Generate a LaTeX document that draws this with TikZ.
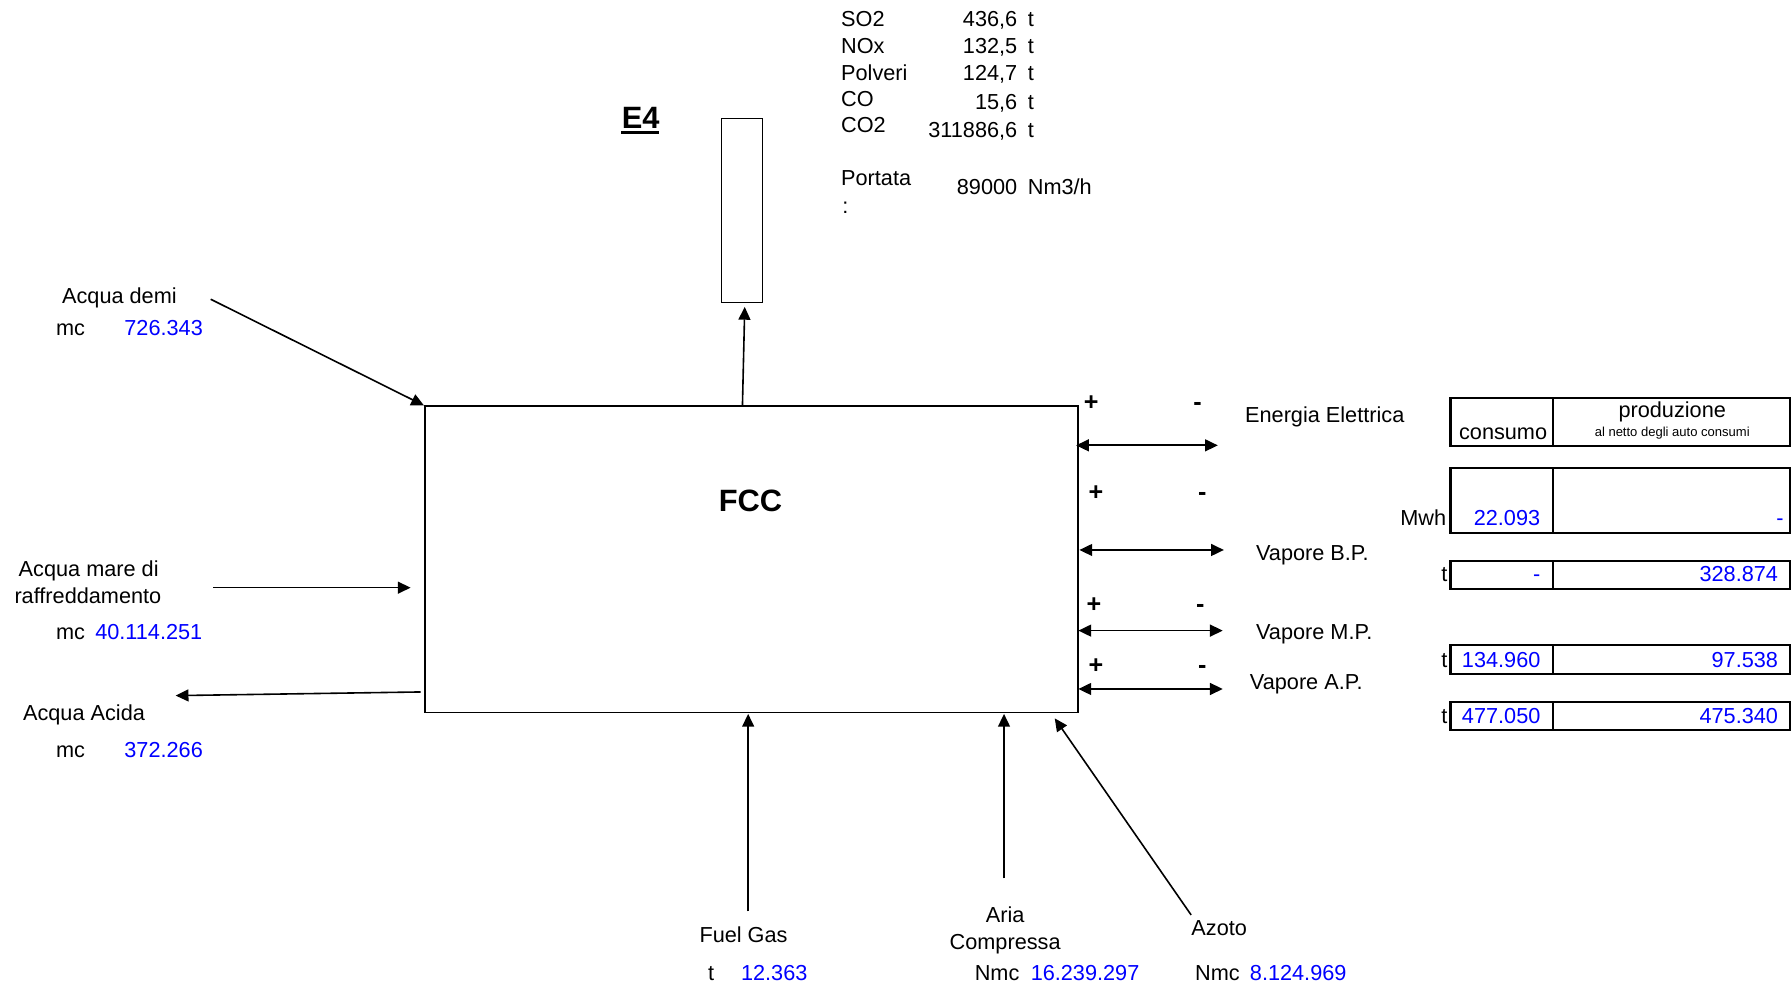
\documentclass[tikz,border=0pt]{standalone}
\usepackage{fontspec}
\setmainfont{Liberation Sans}
\usetikzlibrary{arrows.meta}
\definecolor{valblue}{RGB}{0,0,255}
\newcommand{\fsn}{\fontsize{9.5}{11}\selectfont}
\newcommand{\fsbig}{\fontsize{13.5}{15}\selectfont\bfseries}
\newcommand{\fssmall}{\fontsize{5.7}{7}\selectfont}
\newcommand{\fssign}{\fontsize{11}{12}\selectfont\bfseries}
\begin{document}
\begin{tikzpicture}[x=0.5pt,y=-0.5pt,
  lbl/.style={inner sep=0pt, anchor=base west, font=\fsn},
  lblc/.style={inner sep=0pt, anchor=base, font=\fsn},
  lble/.style={inner sep=0pt, anchor=base east, font=\fsn},
  val/.style={inner sep=0pt, anchor=base east, font=\fsn, text=valblue},
  valw/.style={inner sep=0pt, anchor=base west, font=\fsn, text=valblue},
  sign/.style={inner sep=0pt, anchor=base, font=\fssign},
  tip/.tip={Triangle[length=5.6pt,width=5.2pt]},
  flow/.style={line width=0.7pt, -tip},
  both/.style={line width=0.75pt, tip-tip},
  cell/.style={line width=1pt},
  boxst/.style={draw, line width=0.7pt, inner sep=0pt, anchor=north west},
]
\useasboundingbox (0,0) rectangle (1568,865);

% main unit and stack
\node[boxst, minimum width=286pt, minimum height=134pt] (fcc) at (371.2,355) {};
\node[inner sep=0pt, anchor=base, font=\fsbig] (fcclbl) at (657,448) {FCC};
\node[boxst, minimum width=18pt, minimum height=80.5pt] (stack) at (631,103.2) {};
\node[inner sep=0pt, anchor=base west, font=\fsbig] (e4) at (544,112.6) {E4};
\draw[line width=1.2pt] (e4.base west) ++(0,3.6) -- ++(33,0);

% emissions block
\node[lbl] (so2) at (736,22.8) {SO2};
\node[lble] (so2v) at (891,22.8) {436,6};
\node[lbl] (so2u) at (899.5,22.8) {t};
\node[lbl] (nox) at (736,46.7) {NOx};
\node[lble] (noxv) at (891,46.7) {132,5};
\node[lbl] (noxu) at (899.5,46.7) {t};
\node[lbl] (pol) at (736,70.9) {Polveri};
\node[lble] (polv) at (891,70.9) {124,7};
\node[lbl] (polu) at (899.5,70.9) {t};
\node[lbl] (co) at (736,93) {CO};
\node[lble] (cov) at (891,96.3) {15,6};
\node[lbl] (cou) at (899.5,96.3) {t};
\node[lbl] (co2) at (736,116) {CO2};
\node[lble] (co2v) at (891,120) {311886,6};
\node[lbl] (co2u) at (899.5,120) {t};
\node[lbl] (port) at (736,162.6) {Portata};
\node[lbl] (portc) at (737,186.8) {:};
\node[lble] (portv) at (891,169.9) {89000};
\node[lbl] (portu) at (899.5,169.9) {Nm3/h};

% left side
\node[lbl] (demi) at (54,266) {Acqua demi};
\node[lbl] (demimc) at (48.7,294) {mc};
\node[val] (demiv) at (178,294) {726.343};
\node[lbl] (mare1) at (16,505) {Acqua mare di};
\node[lbl] (mare2) at (12.3,528.2) {raffreddamento};
\node[lbl] (maremc) at (48.7,559.5) {mc};
\node[val] (marev) at (177.5,559.5) {40.114.251};
\node[lbl] (acida) at (19.8,631) {Acqua Acida};
\node[lbl] (acidamc) at (48.7,663) {mc};
\node[val] (acidav) at (178,663) {372.266};

% bottom
\node[lbl] (fuel) at (612,825.3) {Fuel Gas};
\node[lbl] (fuelu) at (619.5,858.6) {t};
\node[valw] (fuelv) at (648.4,858.6) {12.363};
\node[lblc] (aria1) at (880,807.8) {Aria};
\node[lblc] (aria2) at (880,831) {Compressa};
\node[lbl] (ariau) at (853,858.6) {Nmc};
\node[valw] (ariav) at (902,858.6) {16.239.297};
\node[lbl] (azoto) at (1042.7,818.6) {Azoto};
\node[lbl] (azotou) at (1045.9,858.6) {Nmc};
\node[valw] (azotov) at (1093.9,858.6) {8.124.969};

% right side labels and signs
\node[lbl] (ee) at (1089.7,370) {Energia Elettrica};
\node[lbl] (vbp) at (1099.3,490.3) {Vapore B.P.};
\node[lbl] (vmp) at (1099.3,559.7) {Vapore M.P.};
\node[lbl] (vap) at (1093.9,603.5) {Vapore A.P.};
\node[sign] (p1) at (955.3,359.4) {+};
\node[sign] (m1) at (1048.4,359.5) {-};
\node[sign] (p2) at (959.4,438.2) {+};
\node[sign] (m2) at (1052.5,438.3) {-};
\node[sign] (p3) at (957.8,536.5) {+};
\node[sign] (m3) at (1050.9,536.4) {-};
\node[sign] (p4) at (959.4,589.9) {+};
\node[sign] (m4) at (1052.5,590) {-};

% connectors
\coordinate (demiS) at (184.5,262);
\draw[flow] (demiS) -- (fcc.north west);
\coordinate (mareS) at (186.8,514.5);
\coordinate (mareE) at (359.5,514.5);
\draw[flow] (mareS) -- (mareE);
\coordinate (acidaS) at (368.3,605.8);
\coordinate (acidaE) at (153.8,609);
\draw[flow] (acidaS) -- (acidaE);
\coordinate (e4S) at (650,355);
\coordinate (e4E) at (652,268.7);
\draw[flow] (e4S) -- (e4E);
\coordinate (fuelS) at (655,798);
\coordinate (fuelE) at (655,625);
\draw[flow] (fuelS) -- (fuelE);
\coordinate (ariaS) at (879,769);
\coordinate (ariaE) at (879,625);
\draw[flow] (ariaS) -- (ariaE);
\coordinate (azS) at (1042.8,801);
\coordinate (azE) at (923.4,628.9);
\draw[flow] (azS) -- (azE);
\coordinate (eeA) at (942.1,389.9);
\coordinate (eeB) at (1066.2,389.9);
\draw[both] (eeA) -- (eeB);
\coordinate (bpA) at (945,481.5);
\coordinate (bpB) at (1071.5,481.5);
\draw[both] (bpA) -- (bpB);
\coordinate (mpA) at (944.1,552.1);
\coordinate (mpB) at (1070.5,552.1);
\draw[both] (mpA) -- (mpB);
\coordinate (apA) at (944.1,603.2);
\coordinate (apB) at (1070.5,603.2);
\draw[both] (apA) -- (apB);

% table
\draw[cell] (1270,348.7) rectangle (1567,390.5);
\draw[cell] (1359.5,348.7) -- (1359.5,390.5);
\node[lbl] (cons) at (1277,385.2) {consumo};
\node[lblc] (prod) at (1464,365.4) {produzione};
\node[inner sep=0pt, anchor=base, font=\fssmall] (prod2) at (1464,382.3) {al netto degli auto consumi};

\draw[cell] (1270,410) rectangle (1567,466.4);
\draw[cell] (1359.5,410) -- (1359.5,466.4);
\node[lble] (mwh) at (1266.5,459.7) {Mwh};
\node[val] (eec) at (1348.8,459.7) {22.093};
\node[val] (eep) at (1562,459.7) {-};

\draw[cell] (1270,490.9) rectangle (1567,515.7);
\draw[cell] (1359.5,490.9) -- (1359.5,515.7);
\node[lble] (bpu) at (1267.5,509.3) {t};
\node[val] (bpc) at (1349,509.3) {-};
\node[val] (bpp) at (1557,509.3) {328.874};

\draw[cell] (1270,564.7) rectangle (1567,590);
\draw[cell] (1359.5,564.7) -- (1359.5,590);
\node[lble] (mpu) at (1267.5,584.3) {t};
\node[val] (mpc) at (1349,584.3) {134.960};
\node[val] (mpp) at (1557,584.3) {97.538};

\draw[cell] (1270,614.3) rectangle (1567,639);
\draw[cell] (1359.5,614.3) -- (1359.5,639);
\node[lble] (apu) at (1267.5,633.3) {t};
\node[val] (apc) at (1349,633.3) {477.050};
\node[val] (app) at (1557,633.3) {475.340};
\end{tikzpicture}
\end{document}
